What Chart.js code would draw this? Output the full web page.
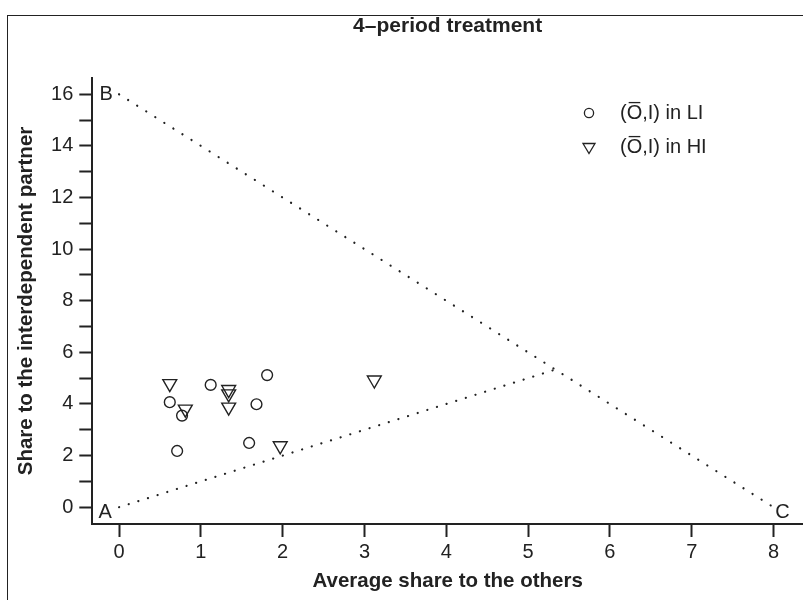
<!DOCTYPE html>
<html>
<head>
<meta charset="utf-8">
<title>4-period treatment</title>
<script src="https://cdn.jsdelivr.net/npm/chart.js@4.4.0/dist/chart.umd.min.js"></script>
<style>
    html, body { margin: 0; padding: 0; background: #fff; overflow: hidden; }
    #wrap { width: 803px; height: 600px; }
</style>
</head>
<body>
<div id="wrap"><canvas id="scatterChart" width="803" height="600"></canvas></div>
<script>
// --- Data ---
const liX = [0.62, 0.77, 0.71, 1.12, 1.81, 1.68, 1.59];
const liY = [4.07, 3.55, 2.18, 4.74, 5.12, 3.99, 2.49];

const hiX = [0.62, 0.81, 1.34, 1.34, 1.34, 1.97, 3.12];
const hiY = [4.79, 3.80, 4.56, 4.39, 3.88, 2.38, 4.93];

// boundary lines: B-C and A to the B-C line
const lineBCx = [0, 8];
const lineBCy = [16, 0];
const lineAx = [0, 16 / 3];
const lineAy = [0, 16 / 3];

const cornerLabels = ['A', 'B', 'C'];
const cornerX = [0, 0, 8];
const cornerY = [0, 16, 0];

const xTicks = [0, 1, 2, 3, 4, 5, 6, 7, 8];
const yTicks = [0, 2, 4, 6, 8, 10, 12, 14, 16];

const legendLabels = ['(O\u0305,I) in LI', '(O\u0305,I) in HI'];

const INK = '#222';
const FONT = "'Liberation Sans', Arial, Helvetica, sans-serif";

const toPoints = (xs, ys) => xs.map((x, i) => ({ x: x, y: ys[i] }));

document.addEventListener('DOMContentLoaded', () => {
    initChart();
});

function initChart() {
    const ctx = document.getElementById('scatterChart').getContext('2d');

    // frame, title, corner letters and legend drawn on the canvas
    const decorations = {
        id: 'decorations',
        beforeDraw(chart) {
            const c = chart.ctx;
            c.save();
            c.strokeStyle = INK;
            c.lineWidth = 1;
            c.strokeRect(7.5, 15.5, 820, 620);
            c.fillStyle = INK;
            c.font = 'bold 21px ' + FONT;
            c.textAlign = 'center';
            c.textBaseline = 'middle';
            const area = chart.chartArea;
            c.fillText('4\u2013period treatment', (area.left + area.right) / 2, 26);
            c.restore();
        },
        afterDatasetsDraw(chart) {
            const c = chart.ctx;
            const xs = chart.scales.x;
            const ys = chart.scales.y;
            const offsets = [[-14, 5], [-13, 0], [9, 5]];
            c.save();
            c.fillStyle = INK;
            c.font = '20px ' + FONT;
            c.textAlign = 'center';
            c.textBaseline = 'middle';
            cornerLabels.forEach((lab, i) => {
                c.fillText(lab,
                    xs.getPixelForValue(cornerX[i]) + offsets[i][0],
                    ys.getPixelForValue(cornerY[i]) + offsets[i][1]);
            });

            // legend
            const lx = chart.chartArea.right - 214;
            const ly = chart.chartArea.top + 35;
            c.strokeStyle = INK;
            c.lineWidth = 1.3;
            c.beginPath();
            c.arc(lx, ly, 4.6, 0, Math.PI * 2);
            c.stroke();
            const ty = ly + 34;
            c.beginPath();
            c.moveTo(lx - 6, ty - 3.5);
            c.lineTo(lx + 6, ty - 3.5);
            c.lineTo(lx, ty + 6.5);
            c.closePath();
            c.stroke();
            c.textAlign = 'left';
            c.fillText(legendLabels[0], lx + 31, ly);
            c.fillText(legendLabels[1], lx + 31, ty);
            c.restore();
        }
    };

    new Chart(ctx, {
        type: 'scatter',
        data: {
            datasets: [
                {
                    label: legendLabels[0],
                    data: toPoints(liX, liY),
                    pointStyle: 'circle',
                    pointRadius: 5.4,
                    borderColor: INK,
                    borderWidth: 1.4,
                    backgroundColor: 'rgba(0,0,0,0)'
                },
                {
                    label: legendLabels[1],
                    data: toPoints(hiX, hiY),
                    pointStyle: 'triangle',
                    rotation: 180,
                    pointRadius: 8,
                    borderColor: INK,
                    borderWidth: 1.4,
                    backgroundColor: 'rgba(0,0,0,0)'
                },
                {
                    label: 'BC',
                    data: toPoints(lineBCx, lineBCy),
                    showLine: true,
                    pointRadius: 0,
                    borderColor: INK,
                    borderWidth: 2.2,
                    borderDash: [0.1, 10.6],
                    borderCapStyle: 'round'
                },
                {
                    label: 'A',
                    data: toPoints(lineAx, lineAy),
                    showLine: true,
                    pointRadius: 0,
                    borderColor: INK,
                    borderWidth: 2.2,
                    borderDash: [0.1, 10],
                    borderCapStyle: 'round'
                }
            ]
        },
        options: {
            responsive: false,
            animation: false,
            devicePixelRatio: 1,
            layout: {
                autoPadding: false,
                padding: { top: 78, right: 0, bottom: 0, left: 0 }
            },
            plugins: {
                legend: { display: false },
                title: { display: false },
                tooltip: { enabled: false }
            },
            scales: {
                x: {
                    type: 'linear',
                    min: -0.327,
                    max: 8.36,
                    afterFit: (scale) => {
                        scale.height = 76;
                        scale.paddingLeft = 0;
                        scale.paddingRight = 0;
                    },
                    afterBuildTicks: (scale) => {
                        scale.ticks = xTicks.map(v => ({ value: v }));
                    },
                    grid: {
                        drawOnChartArea: false,
                        drawTicks: true,
                        tickLength: 13,
                        tickWidth: 2,
                        tickColor: INK
                    },
                    border: { display: true, color: INK, width: 2 },
                    ticks: {
                        color: INK,
                        padding: 3,
                        font: { family: FONT, size: 20 },
                        maxRotation: 0
                    },
                    title: {
                        display: true,
                        text: 'Average share to the others',
                        color: INK,
                        font: { family: FONT, size: 20.5, weight: 'bold' },
                        padding: { top: 0, bottom: 6 }
                    }
                },
                y: {
                    type: 'linear',
                    min: -0.65,
                    max: 16.63,
                    afterFit: (scale) => {
                        scale.width = 92.3;
                        scale.paddingTop = 0;
                        scale.paddingBottom = 0;
                    },
                    afterBuildTicks: (scale) => {
                        const all = [];
                        for (let i = 0; i < yTicks.length; i++) {
                            all.push({ value: yTicks[i] });
                            if (i < yTicks.length - 1) {
                                all.push({ value: (yTicks[i] + yTicks[i + 1]) / 2, minor: true });
                            }
                        }
                        scale.ticks = all;
                    },
                    grid: {
                        drawOnChartArea: false,
                        drawTicks: true,
                        tickLength: 13,
                        tickWidth: 2,
                        tickColor: INK
                    },
                    border: { display: true, color: INK, width: 2 },
                    ticks: {
                        color: INK,
                        padding: 6,
                        font: { family: FONT, size: 20 },
                        callback: (value) => yTicks.includes(value) ? String(value) : ''
                    },
                    title: {
                        display: true,
                        text: 'Share to the interdependent partner',
                        color: INK,
                        font: { family: FONT, size: 20.5, weight: 'bold' },
                        padding: { top: 14, bottom: 0 }
                    }
                }
            }
        },
        plugins: [decorations]
    });
}
</script>
</body>
</html>
